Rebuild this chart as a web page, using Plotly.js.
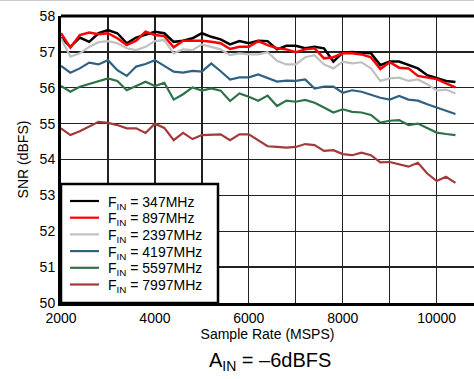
<!DOCTYPE html>
<html>
<head>
<meta charset="utf-8">
<script src="https://cdn.plot.ly/plotly-3.0.1.min.js"></script>
<style>html,body{margin:0;padding:0;background:#fff;}#chart{width:474px;height:379px;}</style>
</head>
<body>
<div id="chart"></div>
<script>
const sampleRate = [2000,2200,2400,2600,2800,3000,3200,3400,3600,3800,4000,4200,4400,4600,4800,5000,5200,5400,5600,5800,6000,6200,6400,6600,6800,7000,7200,7400,7600,7800,8000,8200,8400,8600,8800,9000,9200,9400,9600,9800,10000,10200,10400];

const snr347 = [57.40,57.14,57.40,57.28,57.52,57.61,57.52,57.24,57.40,57.47,57.56,57.52,57.28,57.31,57.38,57.52,57.42,57.35,57.21,
  57.30,57.24,57.31,57.30,57.07,57.17,57.17,57.10,57.14,57.10,56.73,56.98,57.00,56.98,56.96,56.63,56.73,56.73,56.63,56.54,56.35,56.28,56.19,56.16];
const snr897 = [57.52,57.12,57.47,57.54,57.49,57.52,57.38,57.19,57.31,57.56,57.47,57.44,57.13,57.31,57.31,57.31,57.28,57.24,57.08,
  57.14,57.14,57.30,57.19,57.10,57.07,56.99,57.07,57.10,56.82,56.85,56.96,56.96,56.93,56.85,56.52,56.71,56.56,56.54,56.33,56.29,56.24,56.12,56.01];
const snr2397 = [57.38,56.87,56.96,57.14,57.27,57.30,57.24,57.10,57.05,57.14,57.30,57.33,56.96,57.07,57.05,57.21,57.14,57.07,56.91,
  56.96,56.93,56.93,56.99,56.75,56.65,56.65,56.85,56.91,56.65,56.54,56.73,56.68,56.71,56.54,56.19,56.26,56.28,56.19,56.23,56.10,55.92,55.95,55.84];
const snr4197 = [56.61,56.42,56.54,56.70,56.65,56.77,56.49,56.33,56.59,56.66,56.77,56.60,56.45,56.42,56.47,56.45,56.68,56.46,56.23,
  56.29,56.29,56.37,56.26,56.17,56.20,56.19,56.23,55.98,56.03,56.03,55.86,55.93,55.89,55.81,55.72,55.67,55.77,55.67,55.64,55.54,55.45,55.36,55.27];
const snr5597 = [56.05,55.89,56.03,56.10,56.17,56.26,56.19,55.93,56.05,56.17,56.05,56.14,55.67,55.82,56.01,55.92,55.98,55.92,55.63,
  55.84,55.75,55.64,55.78,55.49,55.64,55.61,55.66,55.58,55.45,55.31,55.40,55.33,55.31,55.24,55.03,55.08,55.10,54.96,55.00,54.87,54.75,54.71,54.68];
const snr7997 = [54.87,54.68,54.79,54.91,55.05,55.02,54.96,54.87,54.87,54.74,55.00,54.88,54.54,54.74,54.57,54.68,54.68,54.70,54.54,
  54.70,54.70,54.54,54.37,54.35,54.33,54.35,54.43,54.40,54.24,54.26,54.15,54.12,54.19,54.12,53.92,53.93,53.87,53.80,53.91,53.61,53.40,53.52,53.35];

const seriesNames = ['F<sub>IN</sub> = 347MHz','F<sub>IN</sub> = 897MHz','F<sub>IN</sub> = 2397MHz','F<sub>IN</sub> = 4197MHz','F<sub>IN</sub> = 5597MHz','F<sub>IN</sub> = 7997MHz'];
const seriesValues = [snr347, snr897, snr2397, snr4197, snr5597, snr7997];
const seriesColors = ['#000000','#ff0000','#c0c0c0','#2f6182','#2e7247','#a33a3a'];
const seriesWidths = [2.5,2.5,2.2,2.2,2.2,2.2];

const xTickVals = [2000,4000,6000,8000,10000];
const xTickText = ['2000','4000','6000','8000','10000'];
const xMinorGrid = [3000,5000,7000,9000];
const yTickVals = [50,51,52,53,54,55,56,57,58];
const yTickText = ['50','51','52','53','54','55','56','57','58'];

const FONT = 'Liberation Sans, Arial, Helvetica, sans-serif';

// plot-area geometry (pixels) used to place the hand-built legend box
const W = 474, H = 379, M = {l: 61, r: 0, t: 16, b: 76};
const PW = W - M.l - M.r, PH = H - M.t - M.b;
const px2x = p => (p - M.l) / PW;
const py2y = p => (H - M.b - p) / PH;

const traces = seriesValues.map((v, i) => ({
  type: 'scatter', mode: 'lines', x: sampleRate, y: v, name: seriesNames[i],
  line: {color: seriesColors[i], width: seriesWidths[i]}, showlegend: false
}));

// legend: box, line samples and labels
const legBox = {x0: 61, x1: 218, y0: 184, y1: 303};
const rowTop = 201, rowStep = 16.7;
const shapes = [
  {type: 'line', xref: 'paper', yref: 'paper', x0: -1, x1: 1, y0: 1 + 15.5 / PH, y1: 1 + 15.5 / PH, line: {color: '#cccccc', width: 1}},
  {type: 'line', xref: 'paper', yref: 'paper', x0: 0, x1: 1, y0: 1, y1: 1, line: {color: '#000', width: 3}},
  {type: 'rect', xref: 'paper', yref: 'paper', layer: 'above',
   x0: px2x(legBox.x0), x1: px2x(legBox.x1), y0: py2y(legBox.y1), y1: py2y(legBox.y0),
   fillcolor: '#fff', line: {color: '#000', width: 2.5}}
];
const annotations = [];
seriesNames.forEach((n, i) => {
  const yy = py2y(rowTop + rowStep * i);
  shapes.push({type: 'line', xref: 'paper', yref: 'paper', layer: 'above',
    x0: px2x(70), x1: px2x(99), y0: yy, y1: yy, line: {color: seriesColors[i], width: 2.2}});
  annotations.push({xref: 'paper', yref: 'paper', x: px2x(106), y: py2y(rowTop + rowStep * i + 1.5), xanchor: 'left', yanchor: 'middle',
    text: n, showarrow: false, font: {family: FONT, size: 14, color: '#000'}});
});

const layout = {
  width: W, height: H,
  margin: M,
  paper_bgcolor: '#fff', plot_bgcolor: '#fff',
  font: {family: FONT, size: 14, color: '#000'},
  showlegend: false,
  title: {text: 'A<sub>IN</sub> = –6dBFS', font: {family: FONT, size: 20, color: '#000'},
          xref: 'container', yref: 'container', x: 0.57, y: 0.05, xanchor: 'center', yanchor: 'middle'},
  xaxis: {
    range: [2000, 10795], tickvals: xTickVals, ticktext: xTickText,
    showgrid: true, gridcolor: '#222', gridwidth: 1.3, zeroline: false,
    minor: {tickvals: xMinorGrid, showgrid: true, gridcolor: '#222', gridwidth: 1.3, ticks: ''},
    showline: true, linecolor: '#000', linewidth: 3, ticks: '',
    tickfont: {family: FONT, size: 14, color: '#000'},
    title: {text: 'Sample Rate (MSPS)', font: {family: FONT, size: 14, color: '#000'}, standoff: 2},
    automargin: false
  },
  yaxis: {
    range: [50, 58], tickvals: yTickVals, ticktext: yTickText,
    showgrid: true, gridcolor: '#222', gridwidth: 1.3, zeroline: false,
    showline: true, linecolor: '#000', linewidth: 3, ticks: '',
    tickfont: {family: FONT, size: 14, color: '#000'},
    title: {text: 'SNR (dBFS)', font: {family: FONT, size: 14, color: '#000'}, standoff: 8},
    automargin: false
  },
  shapes: shapes,
  annotations: annotations
};

Plotly.newPlot('chart', traces, layout, {staticPlot: true, displayModeBar: false});
</script>
</body>
</html>
